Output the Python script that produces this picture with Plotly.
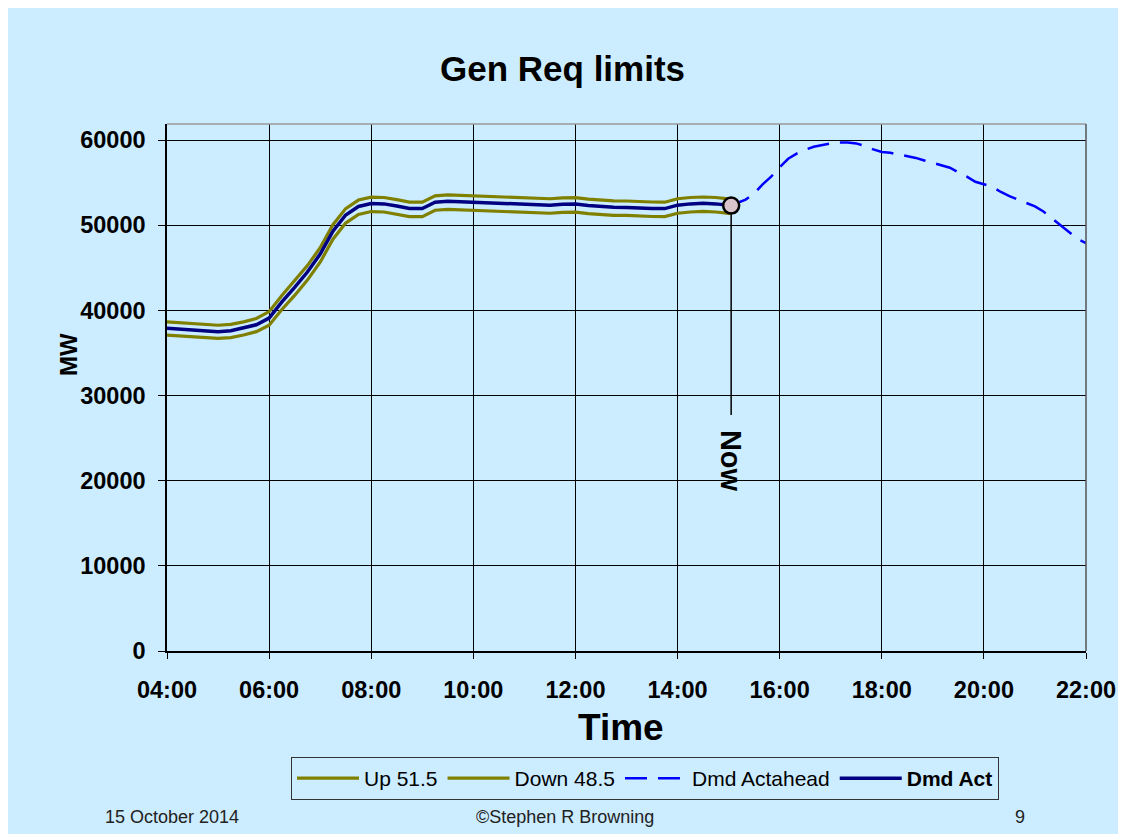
import plotly.graph_objects as go

# ---------------- data ----------------
DAY = "2014-10-15"
act_times = [f"{DAY} {h:02d}:{m:02d}" for h in range(4, 15) for m in (0, 15, 30, 45)] + [f"{DAY} 15:00", f"{DAY} 15:03"]

dmd_act = [37900, 37800, 37700, 37600, 37500, 37600, 37900, 38300, 39100, 41000, 42700, 44500,
           46600, 49300, 51200, 52200, 52550, 52500, 52250, 51950, 51950, 52700, 52800, 52750,
           52700, 52600, 52550, 52550, 52480, 52400, 52350, 52450, 52480, 52300, 52170, 52100,
           52090, 52000, 51970, 51950, 52350, 52500, 52560, 52500, 52350, 52300]

up_515 = [38650, 38550, 38450, 38350, 38250, 38350, 38650, 39050, 39850, 41750, 43450, 45250,
          47350, 50050, 51950, 52950, 53300, 53250, 53000, 52700, 52700, 53450, 53550, 53500,
          53450, 53350, 53300, 53300, 53230, 53150, 53100, 53200, 53230, 53050, 52920, 52850,
          52840, 52750, 52720, 52700, 53100, 53250, 53310, 53250, 53100, 53050]

down_485 = [37100, 37000, 36900, 36800, 36700, 36800, 37100, 37500, 38250, 40100, 41750, 43550,
            45650, 48350, 50250, 51250, 51600, 51550, 51300, 51000, 51000, 51750, 51850, 51800,
            51750, 51650, 51600, 51600, 51530, 51450, 51400, 51500, 51530, 51350, 51220, 51150,
            51140, 51050, 51020, 51000, 51400, 51550, 51610, 51550, 51400, 51350]

ahead_times = [f"{DAY} {h:02d}:{m:02d}" for h in range(15, 22) for m in (0, 10, 20, 30, 40, 50)] + [f"{DAY} 22:00"]
dmd_actahead = [52350, 52600, 53000, 53700, 54800, 55700,
                56800, 57800, 58400, 58850, 59200, 59400,
                59600, 59700, 59700, 59600, 59300, 58900,
                58600, 58500, 58300, 58050, 57900, 57600,
                57300, 57000, 56750, 56200, 55700, 55100,
                54800, 54500, 53900, 53400, 53000, 52600,
                52200, 51600, 50800, 49900, 49100, 48400,
                47900]

now_time = f"{DAY} 15:03"
now_value = 52300
now_line_bottom = 27700

y_ticks = [0, 10000, 20000, 30000, 40000, 50000, 60000]

# ---------------- styles ----------------
BG = "#CCECFF"
FONT = "Arial, Liberation Sans, sans-serif"
OLIVE = "#808000"
NAVY = "#000080"
BLUE = "#0000FF"

W, H = 1126, 834
OFF = 8  # page body margin
# plot area in reference (page) pixels
L, R, T, B = 167, 1086, 124, 651
PW, PH = R - L, B - T

def px(x):
    return (x - L) / PW

def py(y):
    return (B - y) / PH

fig = go.Figure()
fig.add_trace(go.Scatter(x=act_times, y=up_515, mode="lines", name="Up 51.5",
                         line=dict(color=OLIVE, width=3.2)))
fig.add_trace(go.Scatter(x=act_times, y=down_485, mode="lines", name="Down 48.5",
                         line=dict(color=OLIVE, width=3.2)))
fig.add_trace(go.Scatter(x=ahead_times, y=dmd_actahead, mode="lines", name="Dmd Actahead",
                         line=dict(color=BLUE, width=2.5, dash="22px,11px")))
fig.add_trace(go.Scatter(x=act_times, y=dmd_act, mode="lines", name="<b>Dmd Act</b>",
                         line=dict(color=NAVY, width=3.5)))
fig.add_trace(go.Scatter(x=[now_time], y=[now_value], mode="markers", showlegend=False,
                         marker=dict(size=16, color="#D9C4CC", line=dict(color="black", width=2.5))))

fig.add_shape(type="line", xref="x", yref="y", x0=now_time, x1=now_time,
              y0=now_value, y1=now_line_bottom, line=dict(color="black", width=1.5), layer="below")

# plot-area top/right borders
fig.add_shape(type="line", xref="paper", yref="paper", x0=0, x1=1, y0=1, y1=1,
              line=dict(color="#9A9A9A", width=1.5))
fig.add_shape(type="line", xref="paper", yref="paper", x0=1, x1=1, y0=0, y1=1,
              line=dict(color="#555555", width=1.5))

def txt(text, x, y, size, bold=False, angle=0, color="black"):
    return dict(text=text, x=px(x), y=py(y), xref="paper", yref="paper",
                xanchor="center", yanchor="middle", textangle=angle, showarrow=False,
                font=dict(family=FONT, size=size, color=color, weight="bold" if bold else "normal"))

ann = [
    txt("Gen Req limits", 562, 68, 35, bold=True),
    txt("MW", 68, 355, 24, bold=True, angle=-90),
    txt("Time", 621, 727, 37, bold=True),
    txt("15 October 2014", 172, 817, 18, color="#222222"),
    txt("©Stephen R Browning", 565, 817, 18, color="#222222"),
    txt("9", 1020, 817, 18, color="#222222"),
    dict(text="Now", x=now_time, y=now_line_bottom, xref="x", yref="y", yanchor="top",
         xanchor="center", yshift=-13, textangle=90, showarrow=False,
         font=dict(family=FONT, size=29, color="black", weight="bold")),
]

fig.update_layout(
    width=W, height=H,
    margin=dict(l=L - OFF, r=W - (R - OFF), t=T - OFF, b=H - (B - OFF), pad=0),
    paper_bgcolor=BG, plot_bgcolor=BG,
    font=dict(family=FONT, color="black"),
    annotations=ann,
    showlegend=True,
    legend=dict(orientation="h", x=px(645), xanchor="center", y=py(757), yanchor="top",
                bgcolor=BG, bordercolor="#333333", borderwidth=1,
                font=dict(family=FONT, size=21, color="black"), itemwidth=62,
                traceorder="normal"),
)
fig.update_xaxes(type="date", range=[f"{DAY} 04:00", f"{DAY} 22:00"], dtick=7200000,
                 tick0=f"{DAY} 04:00", tickformat="%H:%M",
                 showgrid=True, gridcolor="black", gridwidth=1.2,
                 showline=True, linecolor="black", linewidth=1.5,
                 ticks="outside", ticklen=6, tickcolor="black",
                 tickfont=dict(family=FONT, size=23.5, color="black", weight="bold"),
                 ticklabelstandoff=11, automargin=False, zeroline=False)
fig.update_yaxes(range=[0, 61880], tickvals=y_ticks, ticktext=[str(v) for v in y_ticks],
                 showgrid=True, gridcolor="black", gridwidth=1.2,
                 showline=True, linecolor="black", linewidth=1.5,
                 ticks="outside", ticklen=7, tickcolor="black",
                 tickfont=dict(family=FONT, size=23.5, color="black", weight="bold"),
                 ticklabelstandoff=8, automargin=False, zeroline=False)

fig.write_html("out.html")
